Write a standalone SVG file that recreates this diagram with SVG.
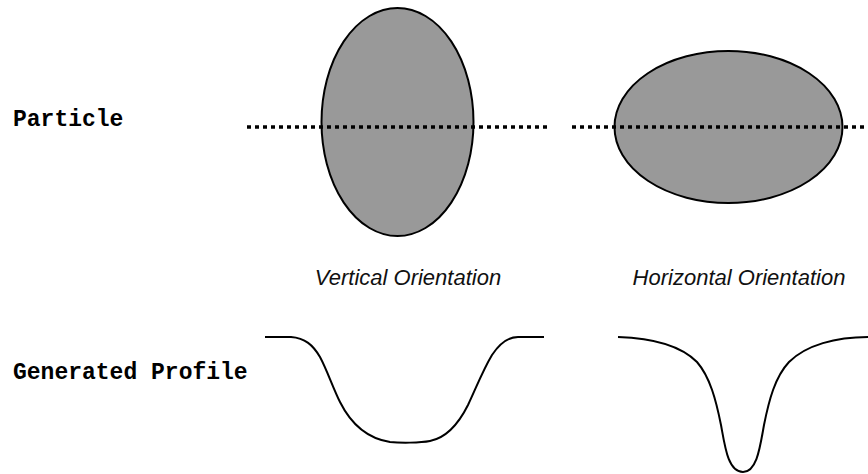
<svg xmlns="http://www.w3.org/2000/svg" width="868" height="474" viewBox="0 0 868 474">
<style>
.lbl{font-family:"Liberation Mono","Courier New",monospace;font-weight:bold;font-size:23px;fill:#000}
.cap{font-family:"Liberation Sans",Arial,sans-serif;font-style:italic;font-size:22px;fill:#111;text-anchor:middle}
.particle{fill:#999999;stroke:#000;stroke-width:2}
.axis{stroke:#000;stroke-width:3.5;stroke-dasharray:4 4;fill:none}
.profile{fill:none;stroke:#000;stroke-width:2}
</style>
<rect width="868" height="474" fill="#fff"/>
<g id="label-particle"><text class="lbl" x="13" y="126">Particle</text></g>
<g id="label-profile"><text class="lbl" x="13" y="379">Generated Profile</text></g>
<g id="vertical-particle">
<ellipse class="particle" cx="397.5" cy="122" rx="76" ry="114"/>
</g>
<g id="horizontal-particle">
<ellipse class="particle" cx="728.5" cy="127" rx="114" ry="76"/>
</g>
<g id="axes">
<line class="axis" x1="247" y1="127" x2="547" y2="127"/>
<line class="axis" x1="572" y1="127" x2="868" y2="127"/>
</g>
<g id="caption-vertical"><text class="cap" x="408" y="285">Vertical Orientation</text></g>
<g id="caption-horizontal"><text class="cap" x="739" y="285">Horizontal Orientation</text></g>
<g id="profile-vertical">
<path class="profile" d="M265,337 H291 C305,338 313,345 320,357 C327,370 333,388 340,402 C350,422 365,438 390,442 C400,443 420,443 430,441 C445,438 458,425 468,405 C476,388 483,370 492,355 C500,343 508,337 518,337 H544"/>
</g>
<g id="profile-horizontal">
<path class="profile" d="M618,337 C650,338 680,345 697,362 C710,377 716,400 721,425 C725,447 728,472 743,472 C757,472 760,447 764,425 C769,400 775,377 789,362 C806,345 836,337 868,337"/>
</g>
</svg>
